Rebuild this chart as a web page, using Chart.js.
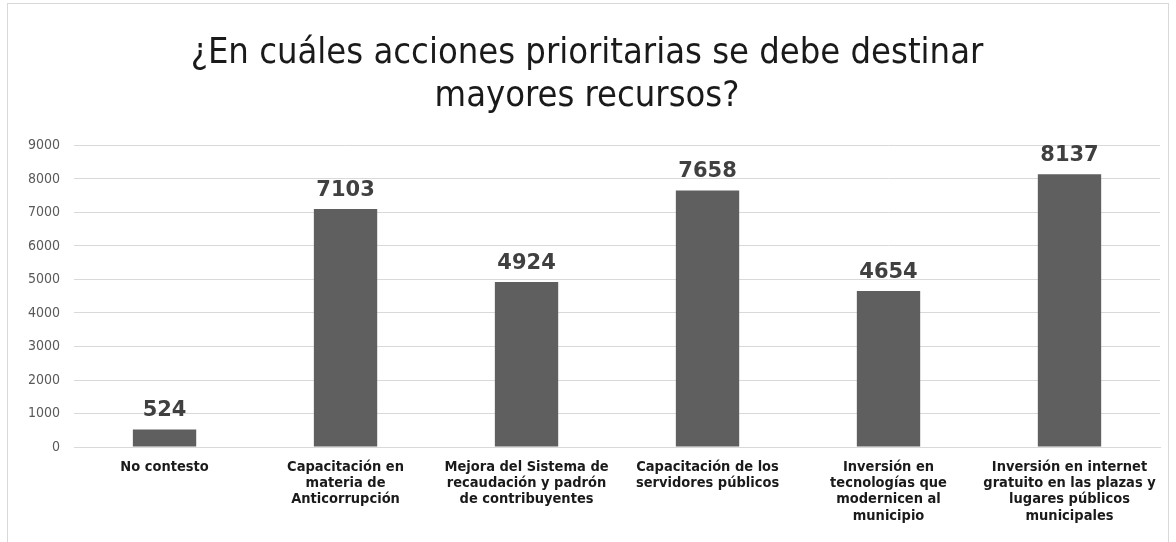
<!DOCTYPE html>
<html lang="es">
<head>
<meta charset="UTF-8">
<title>Acciones prioritarias</title>
<script src="https://cdn.jsdelivr.net/npm/chart.js@4.4.1/dist/chart.umd.min.js"></script>
<style>
  html, body { margin: 0; padding: 0; background: #fff; }
  #frame { position: absolute; left: 7px; top: 3px; width: 1162px; height: 560px; border: 1px solid #d9d9d9; box-sizing: border-box; }
  #wrap { position: absolute; left: 0; top: 0; width: 1176px; height: 542px; }
</style>
</head>
<body>
<div id="frame"></div>
<div id="wrap"><canvas id="c"></canvas></div>
<script>
  const categories = [
    ['No contesto'],
    ['Capacitación en', 'materia de', 'Anticorrupción'],
    ['Mejora del Sistema de', 'recaudación y padrón', 'de contribuyentes'],
    ['Capacitación de los', 'servidores públicos'],
    ['Inversión en', 'tecnologías que', 'modernicen al', 'municipio'],
    ['Inversión en internet', 'gratuito en las plazas y', 'lugares públicos', 'municipales']
  ];
  const votes = [524, 7103, 4924, 7658, 4654, 8137];
  const titleLines = ['¿En cuáles acciones prioritarias se debe destinar', 'mayores recursos?'];

  // value labels above each bar
  const barValues = {
    id: 'barValues',
    afterDatasetsDraw(chart) {
      const ctx = chart.ctx;
      const meta = chart.getDatasetMeta(0);
      ctx.save();
      ctx.font = 'bold 21px "DejaVu Sans", sans-serif';
      ctx.fillStyle = '#404040';
      ctx.textAlign = 'center';
      ctx.textBaseline = 'bottom';
      meta.data.forEach((bar, i) => {
        ctx.fillText(String(votes[i]), bar.x, bar.y - 8);
      });
      ctx.restore();
    }
  };

  new Chart(document.getElementById('c'), {
    type: 'bar',
    data: {
      labels: categories,
      datasets: [{
        data: votes,
        backgroundColor: '#5f5f5f',
        barPercentage: 0.7,
        categoryPercentage: 0.5
      }]
    },
    options: {
      responsive: true,
      maintainAspectRatio: false,
      animation: false,
      layout: { padding: { left: 14, right: 16, top: 6, bottom: 14 } },
      plugins: {
        legend: { display: false },
        tooltip: { enabled: false },
        title: {
          display: true,
          text: titleLines,
          color: '#1a1a1a',
          font: { family: '"DejaVu Sans Condensed", "DejaVu Sans", sans-serif', size: 36, weight: 'normal', lineHeight: 1.2 },
          padding: { top: 26, bottom: 27 }
        }
      },
      scales: {
        x: {
          grid: { display: false },
          border: { color: '#d9d9d9' },
          ticks: {
            color: '#1a1a1a',
            maxRotation: 0,
            autoSkip: false,
            padding: 4,
            font: { family: '"DejaVu Sans Condensed", "DejaVu Sans", sans-serif', size: 14.5, weight: 'bold', lineHeight: 1.12 }
          }
        },
        y: {
          min: 0,
          max: 9000,
          grid: { color: '#d9d9d9', drawTicks: false },
          border: { display: false },
          ticks: {
            stepSize: 1000,
            color: '#595959',
            padding: 14,
            callback: v => String(v),
            font: { family: '"DejaVu Sans Condensed", "DejaVu Sans", sans-serif', size: 14 }
          }
        }
      }
    },
    plugins: [barValues]
  });
</script>
</body>
</html>
